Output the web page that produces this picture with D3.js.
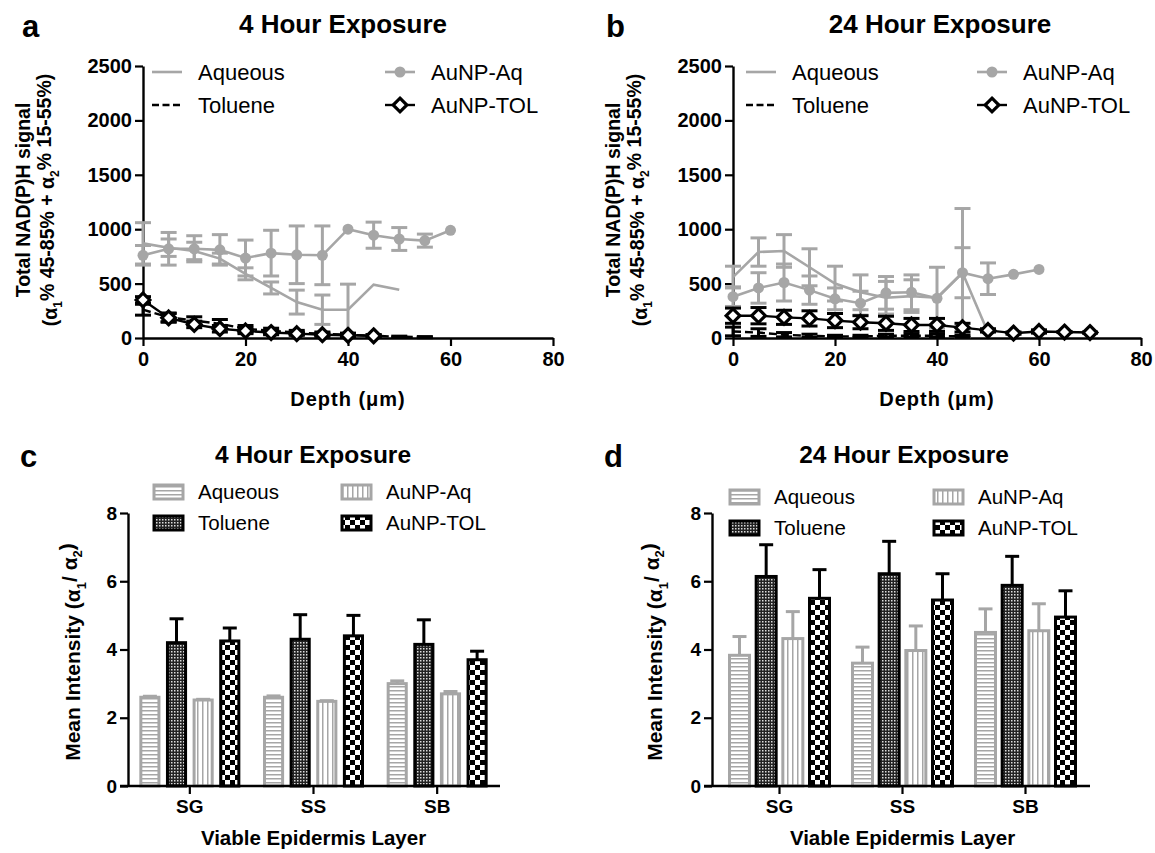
<!DOCTYPE html>
<html><head><meta charset="utf-8">
<script src="https://cdn.jsdelivr.net/npm/d3@7"></script>
<style>
body{margin:0;background:#fff}
svg text{font-family:"Liberation Sans",Arial,sans-serif;fill:#000}
</style></head>
<body><svg id="c" width="1155" height="853"></svg>
<script>
// ---------- DATA ----------
const depthTicks = [0, 20, 40, 60, 80];
const signalTicks = [0, 500, 1000, 1500, 2000, 2500];
const lineSeries = ["Aqueous", "Toluene", "AuNP-Aq", "AuNP-TOL"];

// Panel a (4 h)
const aAqDepth = [0,5,10,15,20,25,30,35,40,45,50];
const aAq      = [870,830,800,730,590,460,330,260,260,490,443];
const aAqErr   = [190,80,80,50,55,55,110,135,235,0,0];
const aNpAqDepth = [0,5,10,15,20,25,30,35,40,45,50,55,60];
const aNpAq      = [760,820,820,810,735,780,765,760,1000,945,910,895,990];
const aNpAqErr   = [90,150,120,140,165,210,265,270,0,120,105,60,0];
const aTolDepth = [0,5,10,15,20,25,30,35,40,45,50,55];
const aTol      = [260,190,160,130,85,65,50,40,30,20,12,8];
const aTolErr   = [50,40,35,40,30,25,20,15,15,10,5,5];
const aNpTolDepth = [0,5,10,15,20,25,30,35,40,45];
const aNpTol      = [350,185,125,85,65,50,40,30,25,20];
const aNpTolErr   = [30,40,30,30,25,20,15,15,15,10];

// Panel b (24 h)
const bAqDepth = [0,5,10,15,20,25,30,35,40,45,50];
const bAq      = [560,790,800,650,500,420,370,385,370,600,50];
const bAqErr   = [100,130,150,170,160,160,150,150,280,590,0];
const bNpAqDepth = [0,5,10,15,20,25,30,35,40,45,50,55,60];
const bNpAq      = [380,460,510,440,360,320,415,420,365,600,545,585,630];
const bNpAqErr   = [90,140,170,130,100,110,150,160,0,230,145,0,0];
const bTolDepth = [0,5,10,15,20,25,30,35,40,45];
const bTol      = [60,50,30,20,15,15,20,20,20,15];
const bTolErr   = [40,35,20,15,10,10,15,15,15,10];
const bNpTolDepth = [0,5,10,15,20,25,30,35,40,45,50,55,60,65,70];
const bNpTol      = [205,205,190,180,160,145,135,120,120,95,70,45,60,55,50];
const bNpTolErr   = [70,75,65,70,65,60,65,60,60,40,15,10,15,5,5];

// Bar panels
const layers = ["SG", "SS", "SB"];
const barSeries = ["Aqueous", "Toluene", "AuNP-Aq", "AuNP-TOL"];
const intensityTicks = [0, 2, 4, 6, 8];
const cAq = [2.6, 2.6, 3.0],    cAqErr = [0.03, 0.04, 0.08];
const cTol = [4.2, 4.3, 4.15],  cTolErr = [0.7, 0.72, 0.72];
const cNpAq = [2.52, 2.48, 2.7], cNpAqErr = [0.02, 0.02, 0.07];
const cNpTol = [4.25, 4.4, 3.7], cNpTolErr = [0.38, 0.6, 0.25];
const dAq = [3.83, 3.6, 4.5],   dAqErr = [0.55, 0.47, 0.69];
const dTol = [6.14, 6.22, 5.88], dTolErr = [0.93, 0.95, 0.85];
const dNpAq = [4.32, 3.97, 4.55], dNpAqErr = [0.79, 0.72, 0.79];
const dNpTol = [5.5, 5.45, 4.95], dNpTolErr = [0.84, 0.77, 0.77];

// ---------- DRAW ----------
const GRAY = "#a6a6a6";
const FONT = "Liberation Sans, Arial, sans-serif";
const svg = d3.select("#c");
const defs = svg.append("defs");

function pat(id, w, h, draw){ const p = defs.append("pattern").attr("id", id).attr("patternUnits","userSpaceOnUse").attr("width", w).attr("height", h); draw(p); }
pat("hstripe", 4, 4, p => { p.append("rect").attr("width",4).attr("height",4).attr("fill","#fff"); p.append("rect").attr("y",2).attr("width",4).attr("height",1.5).attr("fill",GRAY); });
pat("vstripe", 5, 4, p => { p.append("rect").attr("width",5).attr("height",4).attr("fill","#fff"); p.append("rect").attr("x",2).attr("width",1.5).attr("height",4).attr("fill",GRAY); });
pat("finecheck", 3, 3, p => { p.append("rect").attr("width",3).attr("height",3).attr("fill","#222"); p.append("rect").attr("width",1.5).attr("height",1.5).attr("fill","#ddd"); });
pat("bigcheck", 10, 10, p => { p.append("rect").attr("width",10).attr("height",10).attr("fill","#fff"); p.append("rect").attr("width",5).attr("height",5).attr("fill","#000"); p.append("rect").attr("x",5).attr("y",5).attr("width",5).attr("height",5).attr("fill","#000"); });

const barStyle = {
  "Aqueous": {fill:"url(#hstripe)", stroke:GRAY},
  "Toluene": {fill:"url(#finecheck)", stroke:"#000"},
  "AuNP-Aq": {fill:"url(#vstripe)", stroke:GRAY},
  "AuNP-TOL": {fill:"url(#bigcheck)", stroke:"#000"}
};

function txt(g, size, weight){ return g.append("text").style("font-size", size+"px").style("font-weight", weight).style("font-family", FONT); }

function styleAxis(g, fs){
  g.select(".domain").attr("stroke","#000").attr("stroke-width",2.4);
  g.selectAll(".tick line").attr("stroke","#000").attr("stroke-width",2.2);
  g.selectAll(".tick text").style("font-size",fs+"px").style("font-weight","bold").style("font-family",FONT).attr("fill","#000");
}

function panelLetter(x, y, t){ txt(svg, 31, "bold").attr("x",x).attr("y",y).text(t); }
function title(x, y, t, s){ txt(svg, s, "bold").attr("x",x).attr("y",y).attr("text-anchor","middle").text(t); }

function diamond(g, cx, cy){
  g.append("path").attr("d", d3.symbol().type(d3.symbolDiamond2).size(120)()).attr("transform",`translate(${cx},${cy})`)
   .attr("fill","#fff").attr("stroke","#000").attr("stroke-width",3.2);
}

function linePanel(o){
  const x = d3.scaleLinear().domain([0,80]).range([o.x0, o.x1]);
  const y = d3.scaleLinear().domain([0,2500]).range([338, 66]);
  const g = svg.append("g");
  const ya = g.append("g").attr("transform",`translate(${o.x0},0)`).call(d3.axisLeft(y).tickValues(signalTicks).tickFormat(d3.format("d")).tickSize(8).tickSizeOuter(0).tickPadding(3));
  styleAxis(ya, 20);
  const xa = g.append("g").attr("transform",`translate(0,338)`).call(d3.axisBottom(x).tickValues(depthTicks).tickSize(8).tickSizeOuter(0).tickPadding(3));
  styleAxis(xa, 20);
  xa.selectAll(".tick text").attr("dy","0.85em");

  const series = [
    {d:o.aqD, v:o.aq, e:o.aqE, color:GRAY, dash:null, mark:null, w:2.6},
    {d:o.npAqD, v:o.npAq, e:o.npAqE, color:GRAY, dash:null, mark:"circle", w:2.6},
    {d:o.tolD, v:o.tol, e:o.tolE, color:"#000", dash:"8,4", mark:null, w:2.4},
    {d:o.npTolD, v:o.npTol, e:o.npTolE, color:"#000", dash:null, mark:"diamond", w:2.4}
  ];
  series.forEach(s => {
    const pts = s.d.map((dd,i)=>({x:dd, v:s.v[i], e:s.e[i]}));
    const eg = g.append("g").attr("stroke", s.color).attr("stroke-width",3).attr("fill","none");
    pts.filter(p=>p.e>0).forEach(p => {
      const cx = x(p.x), hi = y(p.v+p.e), lo = y(Math.max(0,p.v-p.e));
      eg.append("line").attr("x1",cx).attr("x2",cx).attr("y1",hi).attr("y2",lo);
      eg.append("line").attr("x1",cx-8).attr("x2",cx+8).attr("y1",hi).attr("y2",hi);
      eg.append("line").attr("x1",cx-8).attr("x2",cx+8).attr("y1",lo).attr("y2",lo);
    });
    g.append("path").datum(pts).attr("fill","none").attr("stroke",s.color).attr("stroke-width",s.w)
      .attr("stroke-dasharray", s.dash).attr("d", d3.line().x(p=>x(p.x)).y(p=>y(p.v)));
    if (s.mark === "circle") pts.forEach(p => g.append("circle").attr("cx",x(p.x)).attr("cy",y(p.v)).attr("r",5.5).attr("fill",GRAY));
    if (s.mark === "diamond") pts.forEach(p => diamond(g, x(p.x), y(p.v)));
  });

  const L = o.leg;
  const lg = g.append("g");
  lg.append("line").attr("x1",L.x1).attr("x2",L.x1+30).attr("y1",72).attr("y2",72).attr("stroke",GRAY).attr("stroke-width",2.6);
  txt(lg, 22, "normal").attr("x",L.x1+46).attr("y",72).attr("dy","0.35em").text("Aqueous");
  lg.append("line").attr("x1",L.x1).attr("x2",L.x1+30).attr("y1",105).attr("y2",105).attr("stroke","#000").attr("stroke-width",2.4).attr("stroke-dasharray","7,3.5");
  txt(lg, 22, "normal").attr("x",L.x1+46).attr("y",105).attr("dy","0.35em").text("Toluene");
  lg.append("line").attr("x1",L.x2).attr("x2",L.x2+30).attr("y1",72).attr("y2",72).attr("stroke",GRAY).attr("stroke-width",2.6);
  lg.append("circle").attr("cx",L.x2+15).attr("cy",72).attr("r",5.5).attr("fill",GRAY);
  txt(lg, 22, "normal").attr("x",L.x2+46).attr("y",72).attr("dy","0.35em").text("AuNP-Aq");
  lg.append("line").attr("x1",L.x2).attr("x2",L.x2+30).attr("y1",105).attr("y2",105).attr("stroke","#000").attr("stroke-width",2.4);
  diamond(lg, L.x2+15, 105);
  txt(lg, 22, "normal").attr("x",L.x2+46).attr("y",105).attr("dy","0.35em").text("AuNP-TOL");

  txt(g, 19.5, "bold").attr("transform",`translate(${o.x0-120},200) rotate(-90)`).attr("text-anchor","middle").attr("dy","0.35em").text("Total NAD(P)H signal");
  const yl2 = txt(g, 19.5, "bold").attr("transform",`translate(${o.x0-93},200) rotate(-90)`).attr("text-anchor","middle").attr("dy","0.35em");
  yl2.append("tspan").text("(α");
  yl2.append("tspan").style("font-size","12px").attr("dy","0.4em").text("1");
  yl2.append("tspan").attr("dy","-0.4em").text("% 45-85% +  α");
  yl2.append("tspan").style("font-size","12px").attr("dy","0.4em").text("2");
  yl2.append("tspan").attr("dy","-0.4em").text("% 15-55%)");
  txt(g, 20, "bold").attr("x",(o.x0+o.x1)/2).attr("y",399).attr("dy","0.35em").attr("text-anchor","middle").style("letter-spacing","1px").text("Depth (μm)");
}

linePanel({x0:143, x1:553, aqD:aAqDepth, aq:aAq, aqE:aAqErr, npAqD:aNpAqDepth, npAq:aNpAq, npAqE:aNpAqErr,
  tolD:aTolDepth, tol:aTol, tolE:aTolErr, npTolD:aNpTolDepth, npTol:aNpTol, npTolE:aNpTolErr, leg:{x1:152, x2:385}});
linePanel({x0:733, x1:1141, aqD:bAqDepth, aq:bAq, aqE:bAqErr, npAqD:bNpAqDepth, npAq:bNpAq, npAqE:bNpAqErr,
  tolD:bTolDepth, tol:bTol, tolE:bTolErr, npTolD:bNpTolDepth, npTol:bNpTol, npTolE:bNpTolErr, leg:{x1:746, x2:977}});

panelLetter(22, 37, "a"); title(343, 33, "4 Hour Exposure", 26);
panelLetter(606, 37, "b"); title(940, 33, "24 Hour Exposure", 26);

function barPanel(o){
  const x0 = d3.scaleBand().domain(layers).range([o.bx0, o.bx1]);
  const x1 = d3.scaleBand().domain(barSeries).range([-o.gw/2, o.gw/2]).paddingInner(o.pad);
  const y = d3.scaleLinear().domain([0,8]).range([786, 513]);
  const g = svg.append("g");
  const vals = {"Aqueous":[o.aq,o.aqE], "Toluene":[o.tol,o.tolE], "AuNP-Aq":[o.npAq,o.npAqE], "AuNP-TOL":[o.npTol,o.npTolE]};
  layers.forEach((L, li) => {
    const cx = x0(L) + x0.bandwidth()/2;
    barSeries.forEach(s => {
      const v = vals[s][0][li], e = vals[s][1][li];
      const bx = cx + x1(s), bw = x1.bandwidth();
      const st = barStyle[s];
      g.append("line").attr("x1",bx+bw/2).attr("x2",bx+bw/2).attr("y1",y(v)).attr("y2",y(v+e)).attr("stroke",st.stroke).attr("stroke-width",3);
      g.append("line").attr("x1",bx+bw/2-7).attr("x2",bx+bw/2+7).attr("y1",y(v+e)).attr("y2",y(v+e)).attr("stroke",st.stroke).attr("stroke-width",3);
      g.append("rect").attr("x",bx).attr("y",y(v)).attr("width",bw).attr("height",y(0)-y(v))
        .attr("fill",st.fill).attr("stroke",st.stroke).attr("stroke-width",3);
    });
  });
  const ya = g.append("g").attr("transform",`translate(${o.x0},0)`).call(d3.axisLeft(y).tickValues(intensityTicks).tickSize(8).tickSizeOuter(0).tickPadding(3));
  styleAxis(ya, 19);
  const xa = g.append("g").attr("transform",`translate(0,786)`).call(d3.axisBottom(x0).tickSize(8).tickSizeOuter(0).tickPadding(3));
  styleAxis(xa, 19);
  xa.select(".domain").attr("d", `M${o.x0-8},0H${o.x1}`);
  xa.selectAll(".tick text").attr("dy","0.85em");

  const Lg = o.leg;
  const items = [["Aqueous",Lg.x1,Lg.y1],["Toluene",Lg.x1,Lg.y2],["AuNP-Aq",Lg.x2,Lg.y1],["AuNP-TOL",Lg.x2,Lg.y2]];
  items.forEach(([s,lx,ly]) => {
    g.append("rect").attr("x",lx).attr("y",ly-7).attr("width",29).attr("height",14).attr("fill",barStyle[s].fill).attr("stroke",barStyle[s].stroke).attr("stroke-width",3);
    txt(g, 20.5, "normal").attr("x",lx+44).attr("y",ly).attr("dy","0.35em").text(s);
  });
  const yl = txt(g, 21, "bold").attr("transform",`translate(${o.ylx},652) rotate(-90)`).attr("text-anchor","middle").attr("dy","0.35em");
  yl.append("tspan").text("Mean Intensity (α");
  yl.append("tspan").style("font-size","13px").attr("dy","0.4em").text("1");
  yl.append("tspan").attr("dy","-0.4em").text("/ α");
  yl.append("tspan").style("font-size","13px").attr("dy","0.4em").text("2");
  yl.append("tspan").attr("dy","-0.4em").text(")");
  txt(g, 20.5, "bold").attr("x",(o.bx0+o.bx1)/2).attr("y",838).attr("dy","0.35em").attr("text-anchor","middle").text("Viable Epidermis Layer");
}

barPanel({x0:128, x1:500, bx0:128, bx1:499, gw:98, pad:0.32, aq:cAq, aqE:cAqErr, tol:cTol, tolE:cTolErr, npAq:cNpAq, npAqE:cNpAqErr, npTol:cNpTol, npTolE:cNpTolErr,
  leg:{x1:154, x2:342, y1:492, y2:523}, ylx:73});
barPanel({x0:712, x1:1090, bx0:718, bx1:1087, gw:100, pad:0.25, aq:dAq, aqE:dAqErr, tol:dTol, tolE:dTolErr, npAq:dNpAq, npAqE:dNpAqErr, npTol:dNpTol, npTolE:dNpTolErr,
  leg:{x1:730, x2:934, y1:497, y2:528}, ylx:655});

panelLetter(20, 467, "c"); title(313, 463, "4 Hour Exposure", 24.5);
panelLetter(604, 467, "d"); title(904, 463, "24 Hour Exposure", 24.5);
</script></body></html>
